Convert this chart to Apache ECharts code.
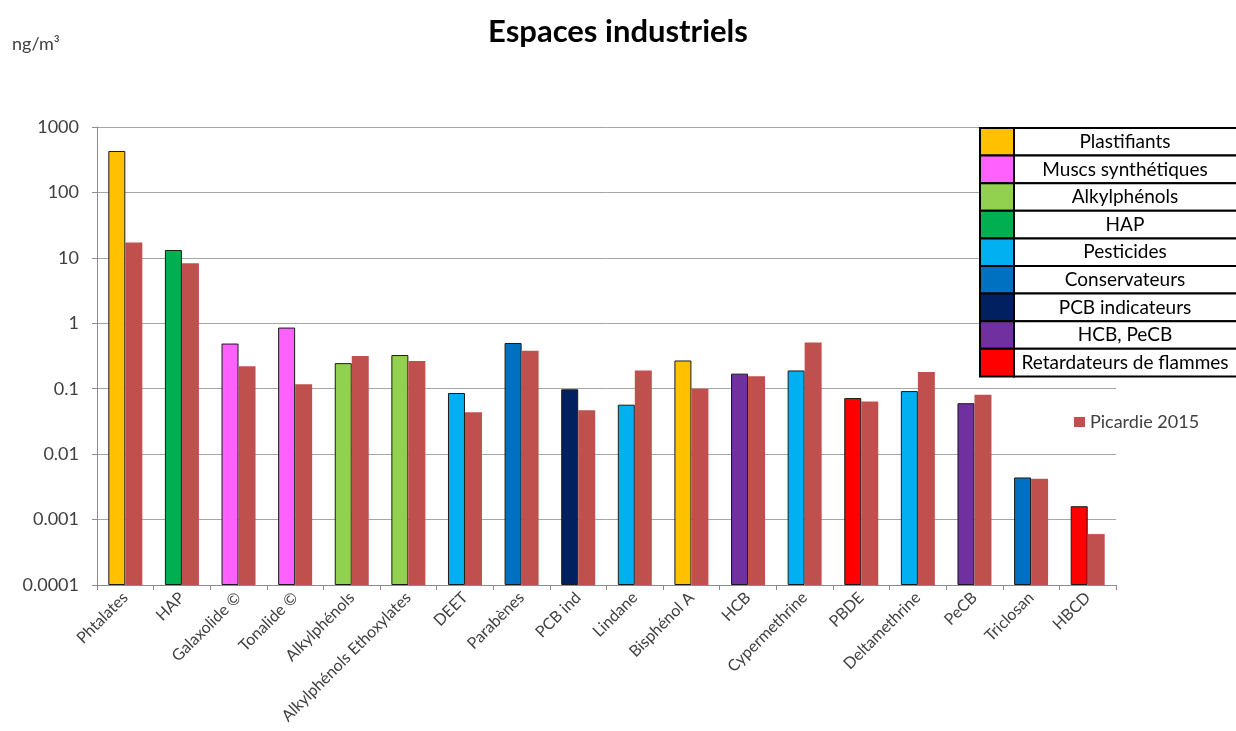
<!DOCTYPE html>
<html>
<head>
<meta charset="utf-8">
<style>
  html, body { margin: 0; padding: 0; background: #fff; }
  #chart { width: 1236px; height: 731px; }
</style>
<script src="https://cdn.jsdelivr.net/npm/echarts@6/dist/echarts.min.js"></script>
</head>
<body>
<div id="chart"></div>
<script>
// Substances measured (x-axis categories)
const categories = [
  'Phtalates', 'HAP', 'Galaxolide ©', 'Tonalide ©', 'Alkylphénols',
  'Alkylphénols Ethoxylates', 'DEET', 'Parabènes', 'PCB ind', 'Lindane',
  'Bisphénol A', 'HCB', 'Cypermethrine', 'PBDE', 'Deltamethrine',
  'PeCB', 'Triclosan', 'HBCD'
];

// Family of each substance (index into families)
const familyOf = [0, 3, 1, 1, 2, 2, 4, 5, 6, 4, 0, 7, 4, 8, 4, 7, 5, 8];

// Substance families and their colours (table legend)
const families = [
  'Plastifiants', 'Muscs synthétiques', 'Alkylphénols', 'HAP', 'Pesticides',
  'Conservateurs', 'PCB indicateurs', 'HCB, PeCB', 'Retardateurs de flammes'
];
const familyColors = [
  '#FFC000', '#FF61FF', '#92D050', '#00B050', '#00B0F0',
  '#0070C0', '#002060', '#7030A0', '#FF0000'
];

// Concentrations, ng/m3
const industriels = [
  430, 13.2, 0.49, 0.86, 0.246, 0.327, 0.086, 0.50, 0.098, 0.057,
  0.27, 0.17, 0.19, 0.072, 0.092, 0.060, 0.0044, 0.0016
];
const picardie2015 = [
  17.1, 8.3, 0.22, 0.117, 0.316, 0.265, 0.0437, 0.38, 0.047, 0.19,
  0.10, 0.155, 0.51, 0.064, 0.18, 0.081, 0.0042, 0.0006
];

// Y tick labels, one per decade
const yTickLabels = ['0.0001', '0.001', '0.01', '0.1', '1', '10', '100', '1000'];

const FONT = 'Lato, "Open Sans", sans-serif';
const chart = echarts.init(document.getElementById('chart'));

// Table legend of families (swatch cell + label cell per row)
const tableX = 979, tableY = 127, swatchW = 34, textW = 260, rowH = 27.6;
const tableGraphics = [];
families.forEach((name, i) => {
  const y = tableY + i * rowH;
  tableGraphics.push({
    type: 'rect', left: tableX, top: y, z: 10,
    shape: { width: swatchW, height: rowH },
    style: { fill: familyColors[i], stroke: '#000', lineWidth: 2 }
  });
  tableGraphics.push({
    type: 'rect', left: tableX + swatchW, top: y, z: 10,
    shape: { width: textW, height: rowH },
    style: { fill: '#fff', stroke: '#000', lineWidth: 2 }
  });
  tableGraphics.push({
    type: 'text', x: tableX + swatchW + 112, y: y + rowH / 2 + 1, z: 11,
    style: {
      text: name, fill: '#000', font: '19px ' + FONT,
      align: 'center', verticalAlign: 'middle'
    }
  });
});

const option = {
  backgroundColor: '#fff',
  animation: false,
  title: {
    text: 'Espaces industriels',
    left: 'center', top: 11,
    textStyle: { fontFamily: FONT, fontWeight: 'bold', fontSize: 31, color: '#000' }
  },
  graphic: [
    {
      type: 'text', left: 12, top: 35,
      style: { text: 'ng/m³', fill: '#404040', font: '18px ' + FONT }
    },
    ...tableGraphics
  ],
  legend: {
    data: ['Picardie 2015'],
    left: 1069, top: 408,
    itemWidth: 11, itemHeight: 10, itemGap: 6,
    icon: 'rect',
    textStyle: { fontFamily: FONT, fontSize: 18, color: '#404040' }
  },
  grid: { left: 97, right: 120, top: 127, bottom: 146, containLabel: false },
  xAxis: {
    type: 'category',
    data: categories,
    axisLine: { lineStyle: { color: '#8c8c8c', width: 1 } },
    axisTick: { show: true, alignWithLabel: false, length: 5, lineStyle: { color: '#8c8c8c' } },
    axisLabel: {
      rotate: 45, interval: 0, margin: 10,
      fontFamily: FONT, fontSize: 16, color: '#404040'
    }
  },
  yAxis: {
    type: 'log',
    logBase: 10,
    min: 0.0001, max: 1000,
    startValue: 0.0001,
    interval: 1,
    splitNumber: 7,
    axisLine: { show: true, lineStyle: { color: '#8c8c8c', width: 1 } },
    axisTick: { show: true, length: 5, lineStyle: { color: '#8c8c8c' } },
    splitLine: { show: true, lineStyle: { color: '#a6a6a6', width: 1 } },
    minorTick: { show: false },
    axisLabel: {
      margin: 18,
      fontFamily: FONT, fontSize: 18, color: '#404040',
      formatter: v => {
        const e = Math.round(Math.log10(v));
        return yTickLabels[e + 4] !== undefined ? yTickLabels[e + 4] : '';
      }
    }
  },
  series: [
    {
      name: 'Espaces industriels',
      type: 'bar',
      barWidth: 17,
      barGap: '0%',
      data: industriels.map((v, i) => ({
        value: v,
        itemStyle: { color: familyColors[familyOf[i]], borderColor: '#1a1a1a', borderWidth: 1 }
      }))
    },
    {
      name: 'Picardie 2015',
      type: 'bar',
      barWidth: 17,
      barGap: '0%',
      itemStyle: { color: '#C0504D' },
      data: picardie2015
    }
  ]
};

chart.setOption(option);
</script>
</body>
</html>
